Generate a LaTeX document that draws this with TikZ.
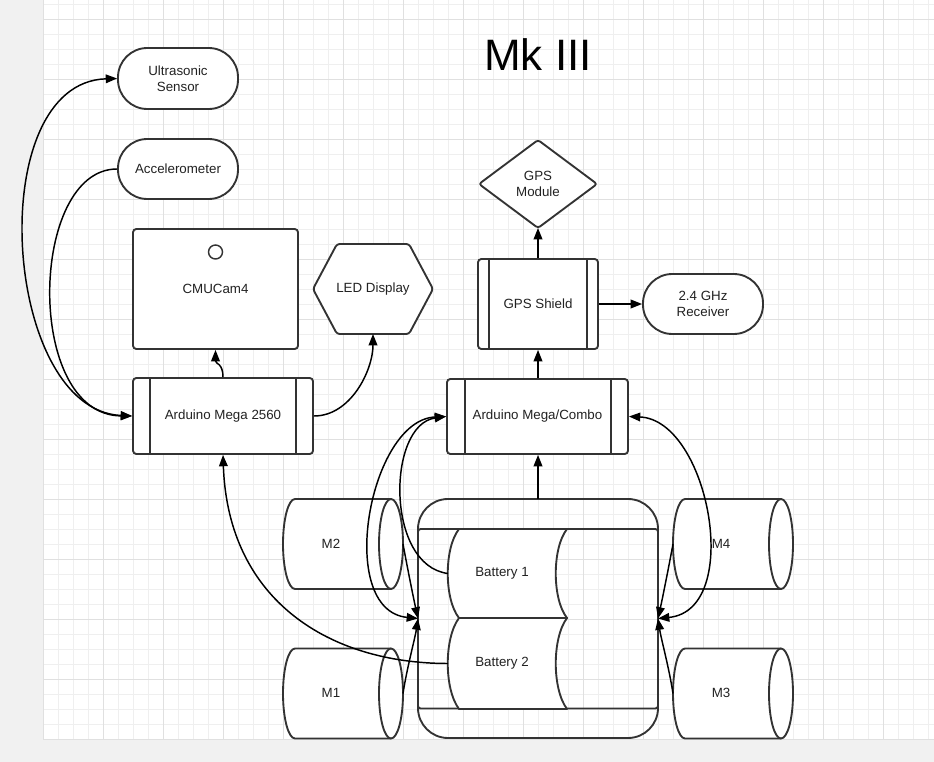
\documentclass[tikz,border=0pt]{standalone}
\usepackage{fontspec}
\setmainfont{Liberation Sans}
\usetikzlibrary{arrows.meta,calc}
\definecolor{edgec}{HTML}{333333}
\definecolor{txtc}{HTML}{222222}
\definecolor{minorg}{HTML}{EFEFEF}
\definecolor{majorg}{HTML}{E0E0E0}
\definecolor{outbg}{HTML}{F1F1F1}
\newcommand{\motorshape}[2]{%
  \draw[edgeline, fill=white] (#1,#2+90) -- ++(96,0) -- ++(0,-90) -- ++(-96,0)
     arc[start angle=270, end angle=90, x radius=12, y radius=45] -- cycle;
  \draw[edgeline, fill=white] (#1+96,#2+45) ellipse[x radius=12, y radius=45];
}
\begin{document}
\begin{tikzpicture}[x=0.75pt,y=-0.75pt,
  >={Triangle[length=8.5pt,width=6.5pt]},
  edgeline/.style={draw=edgec, line width=1.4pt, line join=round},
  txt/.style={font=\fontsize{10}{12}\selectfont, text=txtc, align=center},
  box/.style={edgeline, fill=white, rounded corners=2.5pt, inner sep=0pt, txt},
  pill/.style={box, rounded corners=22pt},
  ghost/.style={inner sep=0pt, outer sep=0pt, txt},
  conn/.style={draw=black, line width=1.1pt},
]
\useasboundingbox (0,0) rectangle (934,762);
% background and grid
\fill[outbg] (0,0) rectangle (934,762);
\fill[white] (43,0) rectangle (934,739);
\foreach \x in {43,58,...,933} \draw[minorg, line width=0.55pt] (\x,0) -- (\x,739.3);
\foreach \y in {4.3,19.3,...,739} \draw[minorg, line width=0.55pt] (43,\y) -- (934,\y);
\foreach \x in {43,103,...,933} \draw[majorg, line width=0.55pt] (\x,0) -- (\x,739.3);
\foreach \y in {19.3,79.3,...,740} \draw[majorg, line width=0.55pt] (43,\y) -- (934,\y);

% title
\node[inner sep=0pt, font=\fontsize{33}{40}\selectfont] (title) at (538,55) {Mk III};

% left column
\node[pill, minimum width=90pt, minimum height=45.75pt] (ultra) at (178,78.5) {Ultrasonic\\Sensor};
\node[pill, minimum width=90pt, minimum height=45pt] (acc) at (178,169) {Accelerometer};
\node[box, minimum width=123.75pt, minimum height=90pt] (cam) at (215.5,289) {CMUCam4};
\node[draw=edgec, line width=1.1pt, circle, minimum size=10.5pt, inner sep=0pt, fill=white] (lens) at (215.5,252) {};

\draw[edgeline, fill=white, rounded corners=2pt] (313,289) -- (337,244) -- (409,244) -- (433,289) -- (409,334) -- (337,334) -- cycle;
\node[ghost, minimum width=90pt, minimum height=67.5pt] (led) at (373,289) {LED Display};

\node[box, minimum width=135pt, minimum height=57pt] (mega) at (223,416) {Arduino Mega 2560};
\draw[edgeline] ($(mega.north west)+(18,0)$) -- ($(mega.south west)+(18,0)$);
\draw[edgeline] ($(mega.north east)+(-18,0)$) -- ($(mega.south east)+(-18,0)$);

% right column
\draw[edgeline, fill=white, rounded corners=2pt] (538,140) -- (597,184) -- (538,228) -- (479,184) -- cycle;
\node[ghost, minimum width=88.5pt, minimum height=66pt] (gm) at (538,184) {GPS\\Module};

\node[box, minimum width=90pt, minimum height=67.5pt] (gs) at (538,304) {GPS Shield};
\draw[edgeline] ($(gs.north west)+(12,0)$) -- ($(gs.south west)+(12,0)$);
\draw[edgeline] ($(gs.north east)+(-12,0)$) -- ($(gs.south east)+(-12,0)$);

\node[pill, minimum width=90pt, minimum height=45pt] (rx) at (703,304) {2.4 GHz\\Receiver};

\node[box, minimum width=135.75pt, minimum height=56.25pt] (combo) at (537.5,416.5) {Arduino Mega/Combo};
\draw[edgeline] ($(combo.north west)+(19,0)$) -- ($(combo.south west)+(19,0)$);
\draw[edgeline] ($(combo.north east)+(-18,0)$) -- ($(combo.south east)+(-18,0)$);

% battery pack
\node[ghost, minimum width=180pt, minimum height=179.25pt] (pack) at (538,618.5) {};
\draw[edgeline, rounded corners=22.5pt] (pack.north west) rectangle (pack.south east);
\draw[edgeline, rounded corners=2pt] ($(pack.north west)+(0,30)$) rectangle ($(pack.south east)+(0,-29.5)$);

\draw[edgeline, fill=white] (459,529) -- (567,529) .. controls (552,548) and (552,599) .. (567,618)
   -- (459,618) .. controls (444,599) and (444,548) .. (459,529) -- cycle;
\node[ghost, minimum width=81pt, minimum height=66.75pt] (bat1) at (502,573.5) {Battery 1};
\draw[edgeline, fill=white] (459,618) -- (567,618) .. controls (552,638) and (552,689) .. (567,709)
   -- (459,709) .. controls (444,689) and (444,638) .. (459,618) -- cycle;
\node[ghost, minimum width=81pt, minimum height=68.25pt] (bat2) at (502,663.5) {Battery 2};

% motors
\motorshape{295}{499}
\node[ghost, minimum width=90pt, minimum height=67.5pt] (m2) at (343,544) {};
\node[ghost] (m2t) at (331,543.5) {M2};
\motorshape{295}{648.5}
\node[ghost, minimum width=90pt, minimum height=67.5pt] (m1) at (343,693.5) {};
\node[ghost] (m1t) at (331,693) {M1};
\motorshape{685}{499}
\node[ghost, minimum width=90pt, minimum height=67.5pt] (m4) at (733,544) {};
\node[ghost] (m4t) at (721,543.5) {M4};
\motorshape{685}{648.5}
\node[ghost, minimum width=90pt, minimum height=67.5pt] (m3) at (733,693.5) {};
\node[ghost] (m3t) at (721,693) {M3};

% connectors
\draw[conn, <->] (ultra.west) .. controls +(-135,4) and +(-130,-6) .. (mega.west);
\draw[conn, ->] (acc.west) .. controls +(-88,0) and +(-108,-1) .. (mega.west);
\draw[conn, ->] (mega.north) .. controls +(0,-14) and +(0,14) .. (cam.south);
\draw[conn, ->] (mega.east) .. controls +(37,0) and +(0,36) .. (led.south);
\draw[conn, ->] (gs.north) -- (gm.south);
\draw[conn, ->] (gs.east) -- (rx.west);
\draw[conn, ->] (gs.south |- combo.north) -- (gs.south);
\draw[conn, ->] (pack.north) -- (pack.north |- combo.south);
\draw[conn, ->] (bat1.west) .. controls +(-63,-8) and +(-59,8) .. (combo.west);
\draw[conn, ->] (bat2.west) .. controls +(-118,0) and +(5,146) .. (mega.south);
\draw[conn, <->] (combo.west) .. controls +(-77,3.5) and +(-83,-8.5) .. (pack.west);
\draw[conn, <->] (combo.east) .. controls +(80,3.5) and +(86,-8.5) .. (pack.east);
\draw[conn, ->] (m2.east) .. controls +(5,27) and +(-4,-18) .. (pack.west);
\draw[conn, ->] (m1.east) .. controls +(4,-26) and +(-3,20) .. (pack.west);
\draw[conn, ->] (m4.west) .. controls +(-5,27) and +(4,-18) .. (pack.east);
\draw[conn, ->] (m3.west) .. controls +(-4,-26) and +(3,20) .. (pack.east);
\end{tikzpicture}
\end{document}
